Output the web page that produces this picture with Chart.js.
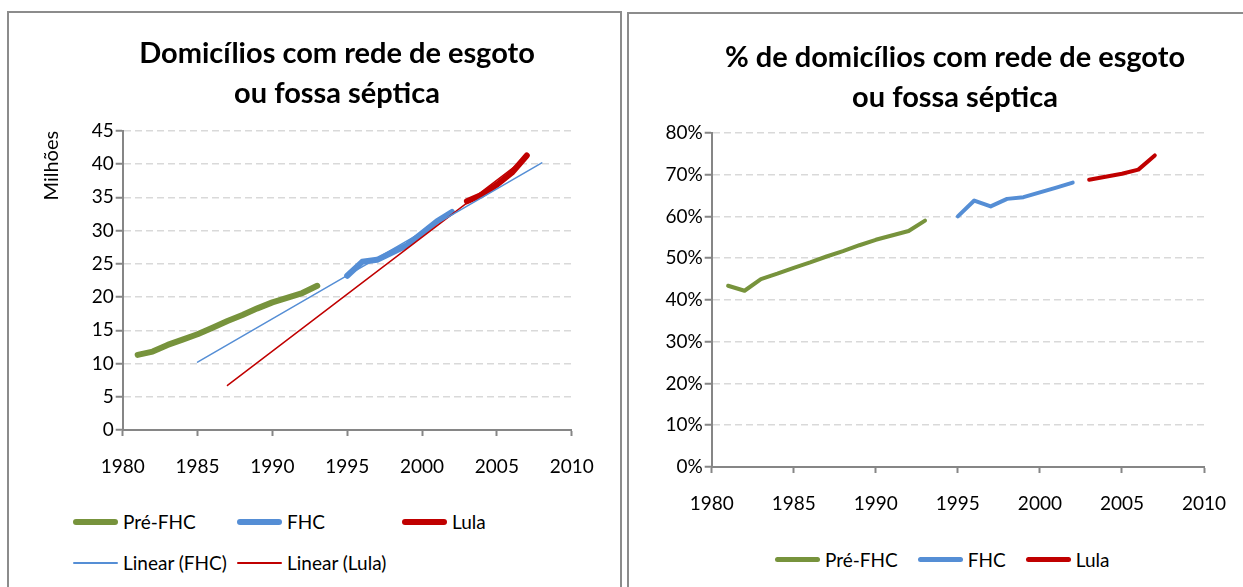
<!DOCTYPE html>
<html lang="pt-BR">
<head>
<meta charset="utf-8">
<script src="https://cdn.jsdelivr.net/npm/chart.js@4.4.1/dist/chart.umd.min.js"></script>
<style>
  body { margin:0; width:1243px; height:587px; overflow:hidden; background:#fff; font-family:Lato, sans-serif; position:relative; }
  .painel { position:absolute; border:2px solid #8c8c8c; background:#fff; }
  .caixa { position:absolute; }
  .legenda { position:absolute; font-size:19px; color:#000; }
  .item { display:flex; align-items:center; white-space:nowrap; height:41px; }
  .traco { width:45px; margin-right:5px; border-radius:3px; }
</style>
</head>
<body>
<div class="painel" style="left:7px;top:11px;width:611px;height:600px"></div>
<div class="painel" style="left:627px;top:12px;width:640px;height:600px"></div>
<div class="caixa" style="left:8px;top:12px;width:658px;height:470px"><canvas id="graficoDomicilios"></canvas></div>
<div class="caixa" style="left:629px;top:14px;width:652px;height:505px"><canvas id="graficoPercentual"></canvas></div>
<div id="legendaDomicilios" class="legenda" style="left:73px;top:501px;display:grid;grid-template-columns:164px 165px 165px"></div>
<div id="legendaPercentual" class="legenda" style="left:775px;top:539px;display:flex;gap:20px"></div>

<script>
// anos de cada governo
var anosPre = [1981, 1982, 1983, 1984, 1985, 1986, 1987, 1988, 1989, 1990, 1992, 1993];
var anosFHC = [1995, 1996, 1997, 1998, 1999, 2001, 2002];
var anosLula = [2003, 2004, 2005, 2006, 2007];

// domicilios (milhoes)
var milhoesPre = [11.3, 11.8, 12.8, 13.6, 14.4, 15.4, 16.4, 17.3, 18.3, 19.2, 20.6, 21.7];
var milhoesFHC = [23.2, 25.3, 25.6, 26.7, 27.8, 31.4, 32.8];
var milhoesLula = [34.4, 35.4, 36.9, 38.7, 41.3];

// linhas de tendencia
var tendFHCAnos = [1985, 2008];
var tendFHCValores = [10.2, 40.2];
var tendLulaAnos = [1987, 2007];
var tendLulaValores = [6.7, 41.0];

// % de domicilios
var pctPre = [43.4, 42.2, 45.0, 46.3, 47.7, 49.0, 50.4, 51.7, 53.1, 54.4, 56.5, 59.0];
var pctFHC = [60.0, 63.8, 62.4, 64.2, 64.6, 66.9, 68.1];
var pctLula = [68.8, 69.5, 70.2, 71.2, 74.6];

// eixos
var anosEixo = [1980, 2010];
var eixoMilhoes = [0, 45, 5];
var eixoPct = [0, 80, 10];

var verde = "#77933C";
var azul = "#558ED5";
var vermelho = "#C00000";
var cinzaEixo = "#868686";
var cinzaGrade = "#d9d9d9";

function pontos(xs, ys) {
  return xs.map((x, i) => ({x: x, y: ys[i]}));
}

function serie(nome, xs, ys, cor, largura, ordem) {
  return {
    label: nome,
    data: pontos(xs, ys),
    borderColor: cor,
    backgroundColor: cor,
    borderWidth: largura,
    borderCapStyle: "round",
    borderJoinStyle: "round",
    pointRadius: 0,
    pointHoverRadius: 0,
    fill: false,
    tension: 0,
    order: ordem
  };
}

// larguraY / larguraDir: espaco dos eixos, para o titulo ficar centrado como no original
function opcoes(titulo, eixoY, formatoY, tituloY, padTopo, padTitulo, larguraY, larguraDir) {
  return {
    responsive: true,
    maintainAspectRatio: false,
    animation: false,
    layout: { padding: { left: 0, right: 0, top: padTopo, bottom: 2 } },
    plugins: {
      legend: { display: false },
      tooltip: { enabled: false },
      title: {
        display: true,
        text: titulo,
        color: "#000",
        font: { family: "Lato", size: 29, weight: "bold", lineHeight: 1.36 },
        padding: { top: 0, bottom: padTitulo }
      }
    },
    scales: {
      x: {
        type: "linear",
        min: anosEixo[0],
        max: anosEixo[1],
        afterFit: s => { s.height = 50; },
        ticks: {
          stepSize: 5,
          color: "#000",
          padding: 19,
          font: { family: "Lato", size: 19 },
          callback: v => String(v)
        },
        grid: { drawOnChartArea: false, drawTicks: true, tickLength: 6, tickColor: cinzaEixo, tickWidth: 2, color: cinzaEixo },
        border: { display: true, color: cinzaEixo, width: 2 }
      },
      y: {
        min: eixoY[0],
        max: eixoY[1],
        afterFit: s => { s.width = larguraY; },
        ticks: {
          stepSize: eixoY[2],
          color: "#000",
          padding: 2,
          font: { family: "Lato", size: 19 },
          callback: formatoY
        },
        title: tituloY,
        grid: {
          color: ctx => ctx.tick && ctx.tick.value === 0 ? "rgba(0,0,0,0)" : cinzaGrade,
          lineWidth: 1.5,
          drawTicks: true,
          tickLength: 7,
          tickColor: cinzaEixo,
          tickWidth: 2
        },
        border: { display: true, color: cinzaEixo, width: 2, dash: [7, 4] }
      },
      folga: {
        position: "right",
        min: 0,
        max: 1,
        afterFit: s => { s.width = larguraDir; },
        ticks: { display: false },
        grid: { display: false, drawOnChartArea: false },
        border: { display: false }
      }
    }
  };
}

var grafico1 = new Chart(document.getElementById("graficoDomicilios"), {
  type: "line",
  data: {
    datasets: [
      serie("Pré-FHC", anosPre, milhoesPre, verde, 6, 1),
      serie("FHC", anosFHC, milhoesFHC, azul, 6, 1),
      serie("Lula", anosLula, milhoesLula, vermelho, 6, 1),
      serie("Linear (FHC)", tendFHCAnos, tendFHCValores, azul, 1.5, 0),
      serie("Linear (Lula)", tendLulaAnos, tendLulaValores, vermelho, 1.5, 0)
    ]
  },
  options: opcoes(
    ["Domicílios com rede de esgoto", "ou fossa séptica"],
    eixoMilhoes,
    v => String(v),
    {
      display: true,
      text: "Milhões",
      align: "end",
      color: "#000",
      font: { family: "Lato", size: 20 },
      padding: { top: 32, bottom: 0 }
    },
    22, 18, 114.7, 94.3
  )
});

var grafico2 = new Chart(document.getElementById("graficoPercentual"), {
  type: "line",
  data: {
    datasets: [
      serie("Pré-FHC", anosPre, pctPre, verde, 4, 1),
      serie("FHC", anosFHC, pctFHC, azul, 4, 1),
      serie("Lula", anosLula, pctLula, vermelho, 4, 1)
    ]
  },
  options: opcoes(
    ["% de domicílios com rede de esgoto", "ou fossa séptica"],
    eixoPct,
    v => v + "%",
    { display: false },
    24, 16, 82.7, 77
  )
});

function montarLegenda(grafico, id, grossa) {
  var el = document.getElementById(id);
  grafico.data.datasets.forEach(ds => {
    var item = document.createElement("div");
    item.className = "item";
    var traco = document.createElement("span");
    traco.className = "traco";
    traco.style.background = ds.borderColor;
    traco.style.height = (ds.borderWidth > 2 ? grossa : 2) + "px";
    item.appendChild(traco);
    item.appendChild(document.createTextNode(ds.label));
    el.appendChild(item);
  });
}

montarLegenda(grafico1, "legendaDomicilios", 6);
montarLegenda(grafico2, "legendaPercentual", 5);
</script>
</body>
</html>
